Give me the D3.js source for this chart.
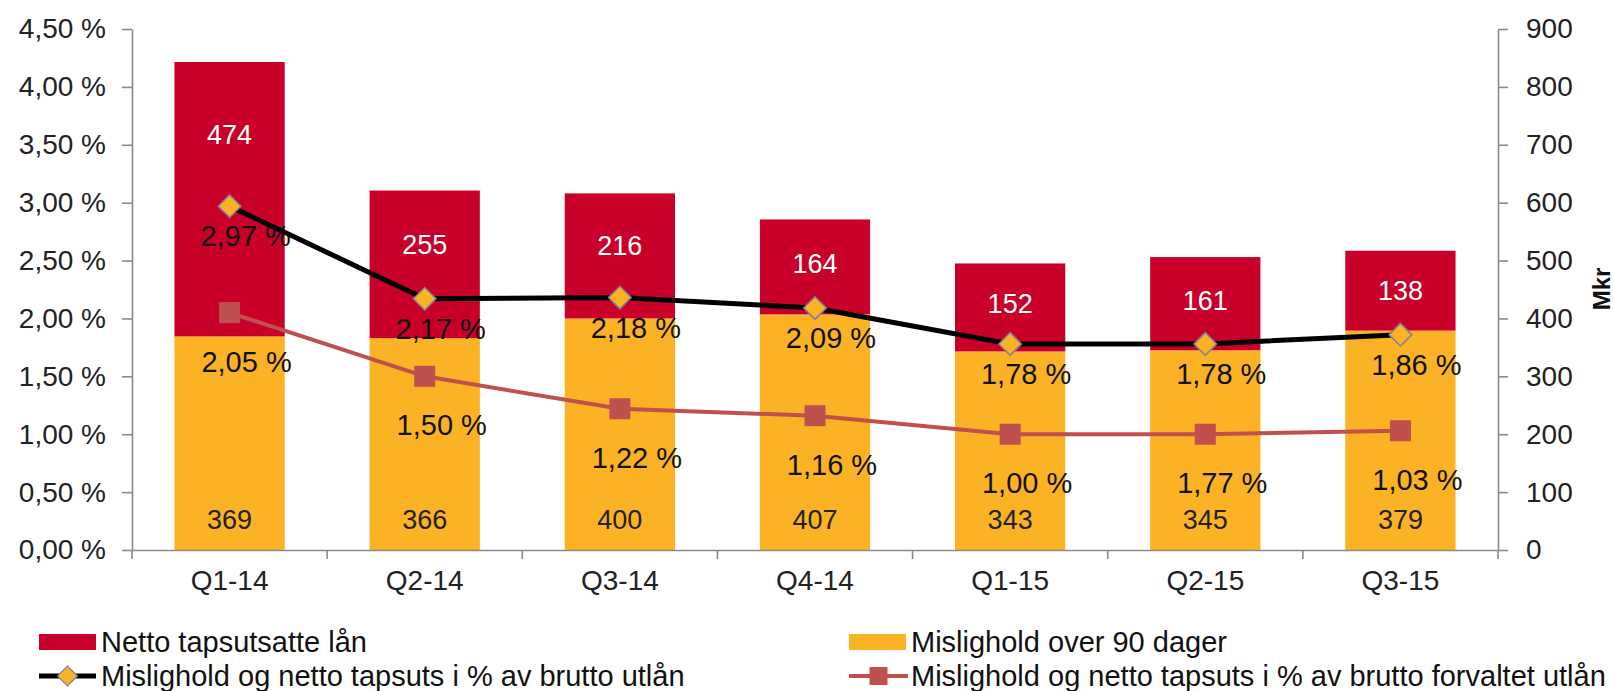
<!DOCTYPE html>
<html>
<head>
<meta charset="utf-8">
<script src="https://cdn.jsdelivr.net/npm/d3@7"></script>
<style>
  body { margin: 0; background: #fff; }
  svg { display: block; font-family: "Liberation Sans", Arial, sans-serif; }
</style>
</head>
<body>
<svg id="chart" width="1614" height="691"></svg>
<script>
// data
const categories = ["Q1-14", "Q2-14", "Q3-14", "Q4-14", "Q1-15", "Q2-15", "Q3-15"];
const mislighold90 = [369, 366, 400, 407, 343, 345, 379];
const nettoTapsutsatte = [474, 255, 216, 164, 152, 161, 138];
const pctBruttoUtlan = [2.97, 2.17, 2.18, 2.09, 1.78, 1.78, 1.86];
const pctForvaltetUtlan = [2.05, 1.50, 1.22, 1.16, 1.00, 1.00, 1.03];
// label texts as printed in the original (Q2-15 says 1,77 %)
const pctForvaltetLabels = ["2,05 %", "1,50 %", "1,22 %", "1,16 %", "1,00 %", "1,77 %", "1,03 %"];
const leftTicks = [0, 0.5, 1, 1.5, 2, 2.5, 3, 3.5, 4, 4.5];
const rightTicks = [0, 100, 200, 300, 400, 500, 600, 700, 800, 900];
const legendLabels = [
    "Netto tapsutsatte lån",
    "Mislighold over 90 dager",
    "Mislighold og netto tapsuts i % av brutto utlån",
    "Mislighold og netto tapsuts i % av brutto forvaltet utlån"
];

const RED = "#c8002a";
const YELLOW = "#fbb224";
const LINE_RED = "#c0504d";
const AXIS = "#8a8a8a";

const svg = d3.select("#chart");
const plot = {left: 132, right: 1498, top: 29, bottom: 550};

const x = d3.scaleBand()
    .domain(categories)
    .range([plot.left, plot.right])
    .paddingInner(0.435)
    .paddingOuter(0.2175);
const yPct = d3.scaleLinear().domain([0, 4.5]).range([plot.bottom, plot.top]);
const yMkr = d3.scaleLinear().domain([0, 900]).range([plot.bottom, plot.top]);
const cx = c => x(c) + x.bandwidth() / 2;

const no = d3.formatLocale({decimal: ",", thousands: " ", grouping: [3], currency: ["", ""]});
const pct = v => no.format(".2f")(v) + " %";

// stacked bars
const bars = svg.append("g");
categories.forEach((c, i) => {
    let m = mislighold90[i], n = nettoTapsutsatte[i];
    bars.append("rect")
        .attr("x", x(c)).attr("width", x.bandwidth())
        .attr("y", yMkr(m)).attr("height", yMkr(0) - yMkr(m))
        .attr("fill", YELLOW);
    bars.append("rect")
        .attr("x", x(c)).attr("width", x.bandwidth())
        .attr("y", yMkr(m + n)).attr("height", yMkr(m) - yMkr(m + n))
        .attr("fill", RED);
});

// axes
function styleAxis(g) {
    g.select(".domain").attr("stroke", AXIS).attr("stroke-width", 1.6);
    g.selectAll(".tick line").attr("stroke", AXIS).attr("stroke-width", 1.6);
    g.selectAll(".tick text").attr("fill", "#222").attr("font-size", 28)
        .attr("font-family", "Liberation Sans, Arial, sans-serif");
}

svg.append("g")
    .attr("transform", "translate(" + plot.left + ",0)")
    .call(d3.axisLeft(yPct).tickValues(leftTicks).tickFormat(pct)
        .tickSize(10).tickSizeOuter(0).tickPadding(16))
    .call(styleAxis);

svg.append("g")
    .attr("transform", "translate(" + plot.right + ",0)")
    .call(d3.axisRight(yMkr).tickValues(rightTicks)
        .tickSize(10).tickSizeOuter(0).tickPadding(18))
    .call(styleAxis);

svg.append("g")
    .attr("transform", "translate(0," + plot.bottom + ")")
    .call(d3.axisBottom(x).tickSize(0).tickSizeOuter(0).tickPadding(20))
    .call(styleAxis);

// category boundary ticks under the x axis
let gap = x.step() * x.paddingInner() / 2;
let bounds = categories.map(c => x(c) - gap).concat([x(categories[categories.length - 1]) + x.bandwidth() + gap]);
bounds[0] = plot.left;
bounds[bounds.length - 1] = plot.right;
svg.append("g").selectAll("line")
    .data(bounds)
    .join("line")
    .attr("x1", d => d).attr("x2", d => d)
    .attr("y1", plot.bottom).attr("y2", plot.bottom + 9)
    .attr("stroke", AXIS).attr("stroke-width", 1.6);

svg.append("text")
    .attr("transform", "translate(1602,289) rotate(-90)")
    .attr("text-anchor", "middle")
    .attr("dy", "0.35em")
    .attr("font-size", 24)
    .attr("font-weight", "bold")
    .attr("fill", "#111")
    .text("Mkr");

// bar value labels
const barLabels = svg.append("g").attr("text-anchor", "middle").attr("font-size", 27);
categories.forEach((c, i) => {
    let m = mislighold90[i], n = nettoTapsutsatte[i];
    // red label sits in the free part of the red segment above the black line
    let top = yMkr(m + n);
    let low = Math.min(yMkr(m), yPct(pctBruttoUtlan[i]));
    barLabels.append("text")
        .attr("x", cx(c)).attr("y", (top + low) / 2).attr("dy", "0.35em")
        .attr("fill", "#fff")
        .text(n);
    barLabels.append("text")
        .attr("x", cx(c)).attr("y", plot.bottom - 30).attr("dy", "0.35em")
        .attr("fill", "#222")
        .text(m);
});

// lines
const lineRed = d3.line().x((d, i) => cx(categories[i])).y(d => yPct(d));
svg.append("path")
    .attr("d", lineRed(pctForvaltetUtlan))
    .attr("fill", "none").attr("stroke", LINE_RED).attr("stroke-width", 4);
svg.append("g").selectAll("rect")
    .data(pctForvaltetUtlan)
    .join("rect")
    .attr("x", (d, i) => cx(categories[i]) - 10.5)
    .attr("y", d => yPct(d) - 10.5)
    .attr("width", 21).attr("height", 21)
    .attr("fill", LINE_RED);

svg.append("path")
    .attr("d", lineRed(pctBruttoUtlan))
    .attr("fill", "none").attr("stroke", "#000").attr("stroke-width", 5);
svg.append("g").selectAll("rect")
    .data(pctBruttoUtlan)
    .join("rect")
    .attr("transform", (d, i) => "translate(" + cx(categories[i]) + "," + yPct(d) + ") rotate(45)")
    .attr("x", -8).attr("y", -8)
    .attr("width", 16).attr("height", 16)
    .attr("fill", YELLOW).attr("stroke", "#80809a").attr("stroke-width", 1.5);

// percentage labels
const pctLabels = svg.append("g").attr("text-anchor", "middle").attr("font-size", 29).attr("fill", "#111");
categories.forEach((c, i) => {
    pctLabels.append("text")
        .attr("x", cx(c) + 16).attr("y", yPct(pctBruttoUtlan[i]) + 30).attr("dy", "0.35em")
        .text(pct(pctBruttoUtlan[i]));
    pctLabels.append("text")
        .attr("x", cx(c) + 17).attr("y", yPct(pctForvaltetUtlan[i]) + 49).attr("dy", "0.35em")
        .text(pctForvaltetLabels[i]);
});

// legend
const legend = svg.append("g").attr("font-size", 29).attr("fill", "#111");
const cols = [39, 849], rows = [642, 676];
legendLabels.forEach((label, i) => {
    let lx = cols[i % 2], ly = rows[Math.floor(i / 2)];
    let g = legend.append("g").attr("transform", "translate(" + lx + "," + ly + ")");
    if (i < 2) {
        g.append("rect").attr("x", 0).attr("y", -8).attr("width", 57).attr("height", 16)
            .attr("fill", i === 0 ? RED : YELLOW);
    } else if (i === 2) {
        g.append("line").attr("x1", 0).attr("x2", 57).attr("stroke", "#000").attr("stroke-width", 5);
        g.append("rect").attr("x", -7).attr("y", -7).attr("width", 14).attr("height", 14)
            .attr("transform", "translate(28.5,0) rotate(45)")
            .attr("fill", YELLOW).attr("stroke", "#80809a").attr("stroke-width", 1.2);
    } else {
        g.append("line").attr("x1", 0).attr("x2", 59).attr("stroke", LINE_RED).attr("stroke-width", 4);
        g.append("rect").attr("x", 29.5 - 9).attr("y", -9).attr("width", 18).attr("height", 18)
            .attr("fill", LINE_RED);
    }
    g.append("text").attr("x", 62).attr("dy", "0.35em").text(label);
});
</script>
</body>
</html>
